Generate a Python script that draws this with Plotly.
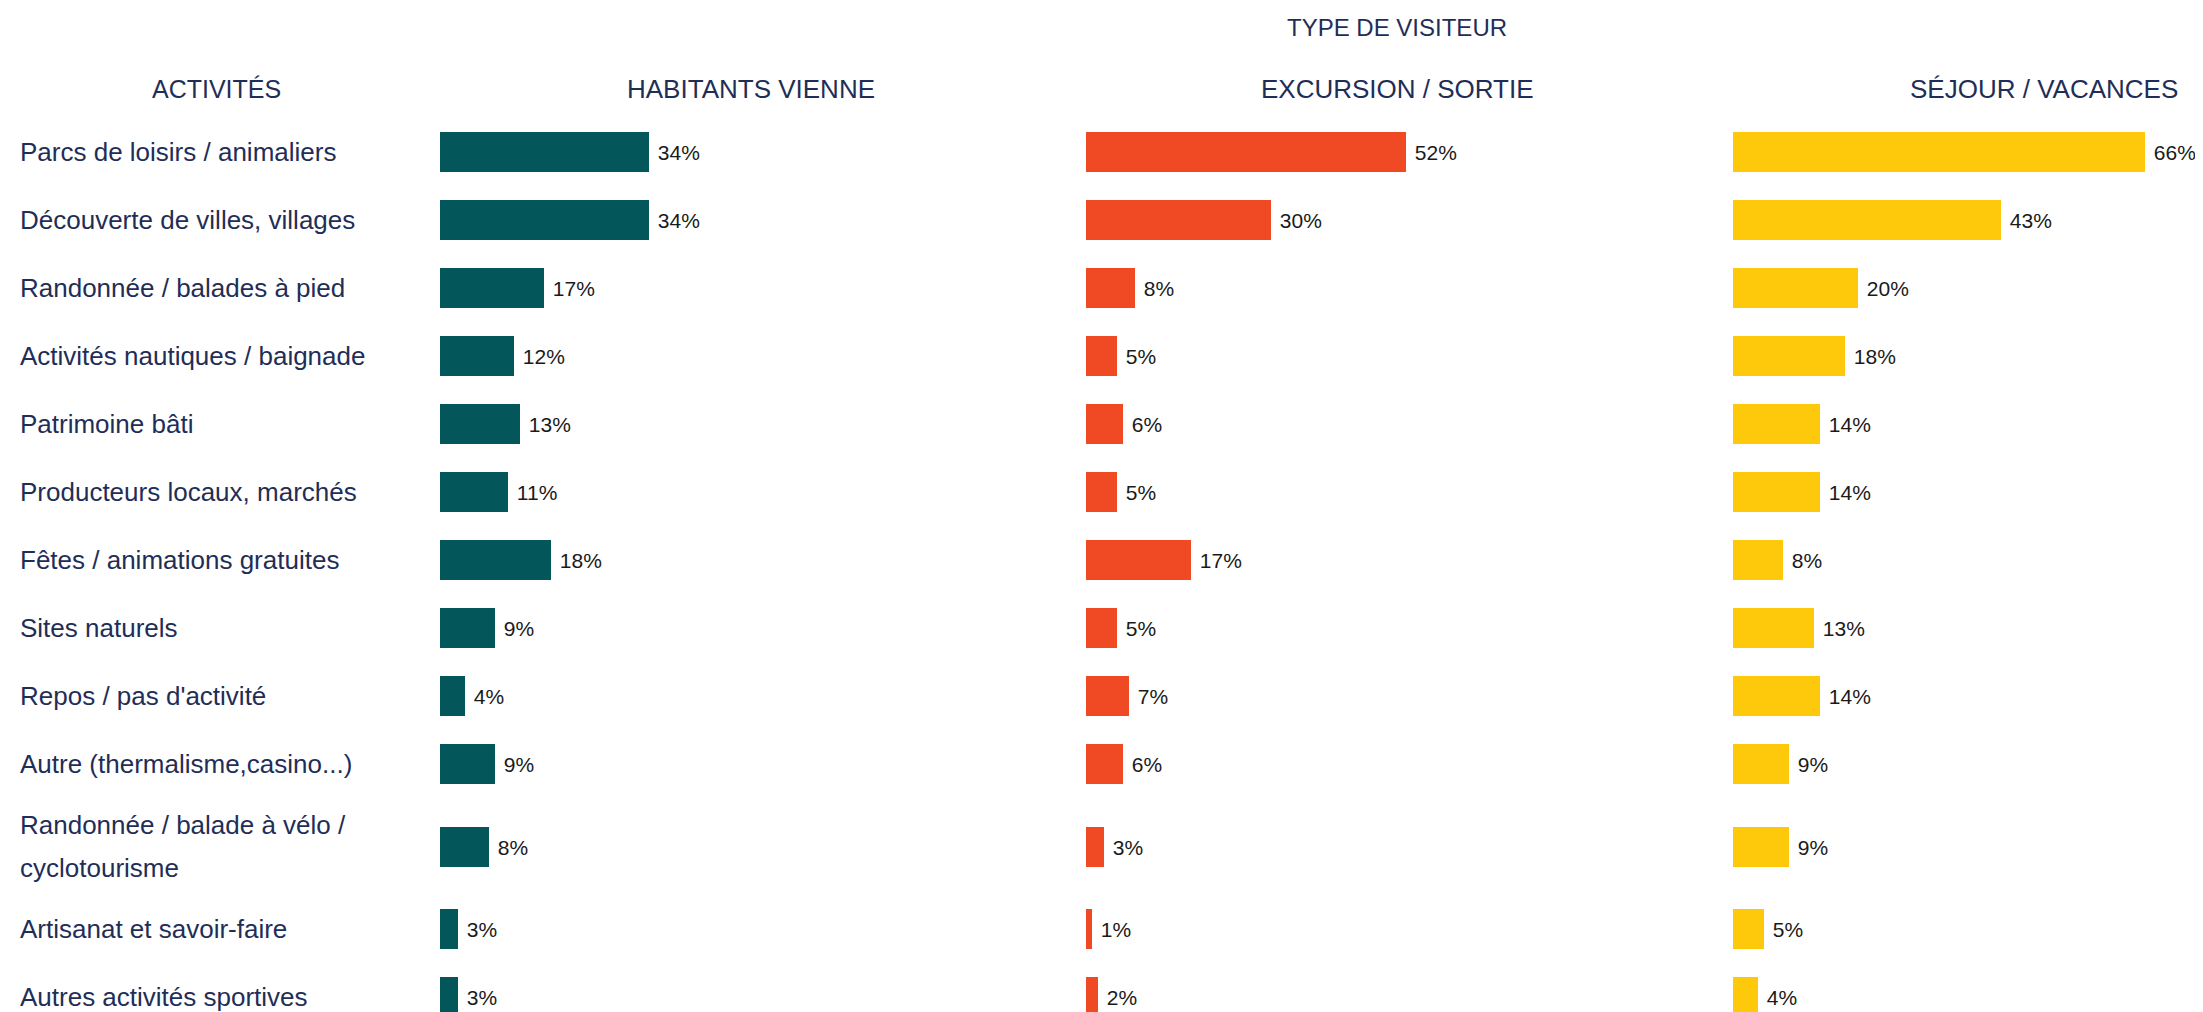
import plotly.graph_objects as go

# ---------------- data ----------------
activites = [
    "Parcs de loisirs / animaliers",
    "Découverte de villes, villages",
    "Randonnée / balades à pied",
    "Activités nautiques / baignade",
    "Patrimoine bâti",
    "Producteurs locaux, marchés",
    "Fêtes / animations gratuites",
    "Sites naturels",
    "Repos / pas d'activité",
    "Autre (thermalisme,casino...)",
    "Randonnée / balade à vélo /<br>cyclotourisme",
    "Artisanat et savoir-faire",
    "Autres activités sportives",
]
habitants_vienne = [34, 34, 17, 12, 13, 11, 18, 9, 4, 9, 8, 3, 3]
excursion_sortie = [52, 30, 8, 5, 6, 5, 17, 5, 7, 6, 3, 1, 2]
sejour_vacances = [66, 43, 20, 18, 14, 14, 8, 13, 14, 9, 9, 5, 4]

series_names = ["HABITANTS VIENNE", "EXCURSION / SORTIE", "SÉJOUR / VACANCES"]
series_values = [habitants_vienne, excursion_sortie, sejour_vacances]
series_colors = ["#03565A", "#F04A24", "#FDC90A"]

header_left = "ACTIVITÉS"
header_top = "TYPE DE VISITEUR"

# ---------------- layout constants ----------------
W, H = 2203, 1012
OFF = 8               # page body margin compensation (px)
NAVY = "#1F2E57"
FONT = "Liberation Sans, Arial, sans-serif"
ROW_H = 68.0          # px height of a single-line row
LINE_EXTRA = 28.5     # px added per extra label line
LINE_GAP = 43.0       # px between label lines
TABLE_TOP = 118.3     # px, top of first row
BAR_H = 40
PX_PER_PCT = [6.14, 6.15, 6.24]
COL_STARTS = [440, 1086, 1733]
COL_W = 622
LABEL_X = 18
HEADER_Y = 88.8
TOP_HEADER_Y = 27


def px_x(p):
    return (p - OFF) / W


def px_y(p):
    return 1 - (p - OFF) / H


# row centres (page pixel units from top), derived from label line count
centers = []
y = TABLE_TOP
for lab in activites:
    n_lines = lab.count("<br>") + 1
    h = ROW_H + LINE_EXTRA * (n_lines - 1)
    centers.append(y + h / 2)
    y += h

fig = go.Figure()

for i, (name, vals, col) in enumerate(zip(series_names, series_values, series_colors)):
    start = COL_STARTS[i]
    end = min(start + COL_W, W + OFF)
    axis_id = "" if i == 0 else str(i + 1)
    fig.add_trace(go.Bar(
        x=vals,
        y=centers,
        orientation="h",
        width=BAR_H,
        marker=dict(color=col, line=dict(width=0)),
        text=["\u00a0" + f"{v}%" for v in vals],
        textposition="outside",
        constraintext="none",
        cliponaxis=False,
        outsidetextfont=dict(family=FONT, size=21, color="#1a1a1a"),
        xaxis="x" + axis_id,
        yaxis="y",
        name=name,
        showlegend=False,
        hoverinfo="skip",
    ))
    fig.layout["xaxis" + axis_id] = dict(
        domain=[px_x(start), px_x(end)],
        range=[0, (end - start) / PX_PER_PCT[i]],
        visible=False,
        fixedrange=True,
    )
    # column header
    fig.add_annotation(
        text=name, xref="paper", yref="paper",
        x=px_x(start + COL_W / 2), y=px_y(HEADER_Y),
        xanchor="center", yanchor="middle", showarrow=False,
        font=dict(family=FONT, size=26, color=NAVY),
    )

# left header & top header
fig.add_annotation(
    text=header_left, xref="paper", yref="paper",
    x=px_x(216), y=px_y(HEADER_Y), xanchor="center", yanchor="middle",
    showarrow=False, font=dict(family=FONT, size=25, color=NAVY),
)
fig.add_annotation(
    text=header_top, xref="paper", yref="paper",
    x=px_x(COL_STARTS[1] + COL_W / 2), y=px_y(TOP_HEADER_Y),
    xanchor="center", yanchor="middle", showarrow=False,
    font=dict(family=FONT, size=24, color=NAVY),
)

# activity labels
for lab, c in zip(activites, centers):
    lines = lab.split("<br>")
    n = len(lines)
    for k, line in enumerate(lines):
        yy = c + (k - (n - 1) / 2) * LINE_GAP
        fig.add_annotation(
            text=line, xref="paper", yref="y",
            x=px_x(LABEL_X), y=yy, xanchor="left", yanchor="middle",
            showarrow=False, font=dict(family=FONT, size=26, color=NAVY),
        )

fig.update_layout(
    width=W, height=H,
    margin=dict(l=0, r=0, t=0, b=0),
    paper_bgcolor="white", plot_bgcolor="white",
    # data value p (page px) is drawn at page pixel p
    yaxis=dict(range=[H + OFF, OFF], domain=[0, 1], visible=False, fixedrange=True),
    bargap=0,
)

fig.write_html("out.html")
